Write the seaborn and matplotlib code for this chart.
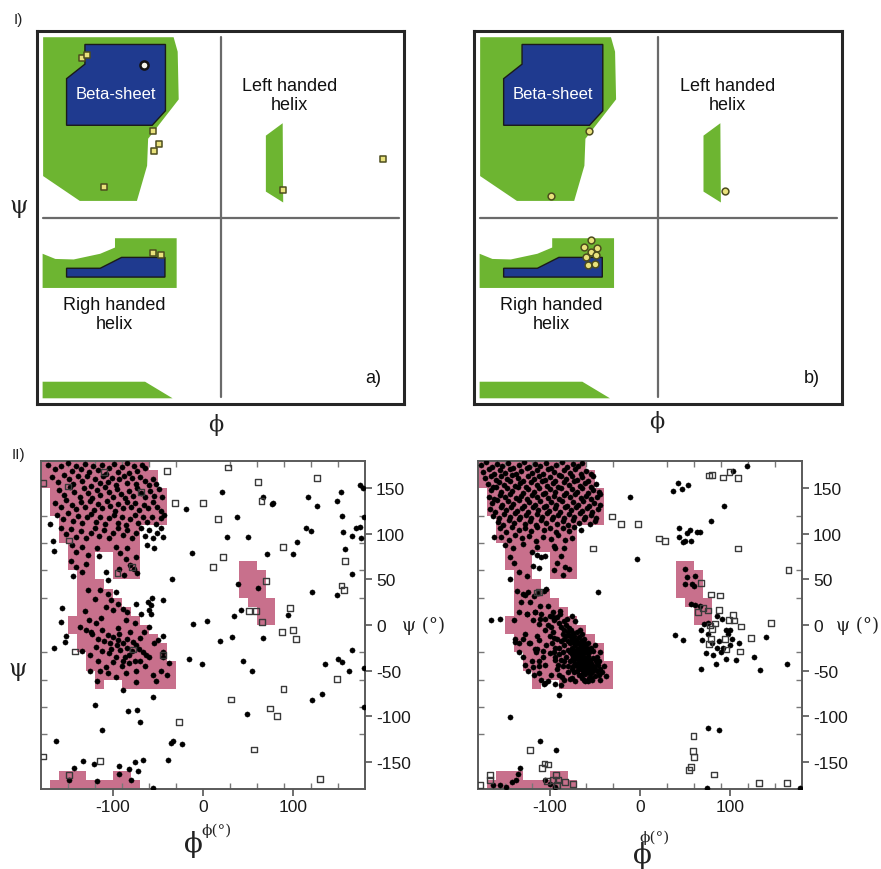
import numpy as np
import pandas as pd
import matplotlib
matplotlib.use("Agg")
import matplotlib.pyplot as plt
from matplotlib.patches import Polygon
from matplotlib.colors import ListedColormap
from matplotlib.ticker import FixedLocator
import seaborn as sns

sns.set_theme(style="white")
plt.rcParams['font.family'] = ['Liberation Sans', 'DejaVu Sans']
GREEK = ['DejaVu Serif', 'Liberation Serif']

# ---------------- Schematic regions (panels I a / b) ----------------
beta_green_phi = [-174, -46, -42, -41, -71, -72, -82, -138, -174]
beta_green_psi = [174, 174, 160, 114, 76, 50, 16, 16, 40]
beta_blue_phi = [-133, -54, -54, -67, -151, -151, -133]
beta_blue_psi = [167, 167, 103, 89, 89, 134, 148]
lhelix_green_phi = [44.5, 61, 61.5, 44.5]
lhelix_green_psi = [79, 91, 14.5, 25]
rhelix_green_phi = [-103.5, -43, -43, -174.5, -174.5, -162, -144, -118, -103.5]
rhelix_green_psi = [-20, -20, -68, -68, -35, -40, -40.5, -35, -29]
rhelix_blue_phi = [-151, -118, -97, -54.5, -54.5, -151]
rhelix_blue_psi = [-49, -49, -38.5, -38.5, -57.5, -57.5]
bottom_green_phi = [-174.5, -74, -47, -174.5]
bottom_green_psi = [-158.5, -158.5, -174.5, -174.5]

# residues plotted on the schematic maps
res_a = [(-136, 153.6), (-130.7, 156.8), (-66.5, 83.2), (-60, 70.9), (-65.2, 63.9),
         (-114, 29.1), (61.6, 26.5), (159.7, 56.4), (-66.5, -34.3), (-58.3, -36.2)]
res_a_special = [(-74.7, 147.2)]
res_b = [(-67.5, 83.8), (-104.6, 20.4), (65.5, 25.9), (-65.5, -21.4), (-72, -28.8),
         (-65.5, -33.6), (-59.4, -29.7), (-70.4, -38.4), (-60.6, -36.2), (-68.8, -45.5),
         (-61.6, -44.9)]

# ---------------- Ramachandran allowed region (10 deg cells) ----------------
# (psi lower edge, phi start, phi end)
allowed_rows = [
    (170, -180, -60), (160, -180, -50), (150, -180, -50),
    (140, -170, -40), (130, -170, -40), (120, -170, -40),
    (110, -160, -40), (100, -160, -70), (90, -160, -70), (80, -150, -70),
    (70, -150, -120), (70, -100, -70), (60, -150, -120), (60, -100, -70),
    (50, -140, -120), (50, -100, -70),
    (40, -140, -110), (30, -140, -100), (20, -140, -90), (10, -140, -80),
    (0, -150, -70), (-10, -150, -60), (-20, -140, -50), (-30, -140, -40),
    (-40, -130, -40), (-50, -130, -30), (-60, -120, -30),
    (-70, -120, -110), (-70, -90, -30),
    (-170, -160, -130), (-170, -100, -80), (-180, -170, -70),
    (60, 40, 60), (50, 40, 70), (40, 40, 70), (30, 40, 70),
    (20, 50, 80), (10, 60, 80), (0, 60, 80),
]

# ---------------- Panel II left: residues ----------------
left_beta = [
    (-172,176),(-165,171),(-158,174),(-150,178),(-146,169),(-141,175),(-136,171),(-131,177),(-127,168),(-122,174),
    (-117,170),(-112,176),(-108,166),(-104,172),(-99,177),(-95,168),(-90,173),(-85,178),(-82,167),(-77,174),
    (-73,169),(-68,176),(-64,172),
    (-168,162),(-161,157),(-155,165),(-149,160),(-144,155),(-139,163),(-134,158),(-129,164),(-125,153),(-120,160),
    (-115,156),(-111,163),(-106,157),(-101,161),(-97,154),(-93,160),(-88,164),(-84,156),(-79,161),(-74,155),
    (-70,162),(-65,158),(-60,154),(-56,160),(-52,155),
    (-160,148),(-154,143),(-148,151),(-143,146),(-137,141),(-132,150),(-128,145),(-123,139),(-118,148),(-114,143),
    (-109,151),(-105,146),(-100,140),(-96,149),(-91,144),(-87,139),(-82,147),(-78,142),(-73,150),(-69,145),
    (-64,140),(-59,147),(-54,142),(-49,149),(-46,141),
    (-165,134),(-158,129),(-152,137),(-146,132),(-141,127),(-136,135),(-131,130),(-126,136),(-121,126),(-117,133),
    (-112,128),(-107,136),(-103,131),(-98,125),(-94,133),(-89,128),(-85,135),(-80,129),(-76,134),(-71,126),
    (-66,132),(-61,128),(-56,135),(-51,130),(-47,125),
    (-162,121),(-156,116),(-150,123),(-145,114),(-139,120),(-134,112),(-129,118),(-124,122),(-119,113),(-114,119),
    (-109,111),(-104,117),(-99,121),(-95,112),(-90,118),(-86,110),(-81,116),(-76,121),(-72,112),(-67,118),
    (-62,113),(-57,119),(-52,111),(-47,117),(-43,121),
    (-158,106),(-152,100),(-147,105),(-141,97),(-136,103),(-130,95),(-125,101),(-120,106),(-116,98),(-110,104),
    (-105,96),(-100,101),(-94,107),(-89,99),(-84,104),(-79,96),(-74,101),(-69,107),(-64,98),(-60,104),
    (-56,95),(-51,101),(-47,106),(-44,97),(-62,88),(-55,84),
    (-146,88),(-141,80),(-134,86),(-128,77),(-147,70),(-141,64),(-135,58),(-130,67),(-144,54),(-118,84),
    (-116,76),(-108,58),(-106,49),(-97,86),(-92,79),(-86,72),(-81,66),(-77,61),(-93,62),(-88,55),
    (-73,57),(-75,75),(-84,84),
]
left_helix = [
    (-106,34),(-97,36),(-102,27),(-95,23),(-74,23),(-108,20),(-100,16),(-89,18),(-84,14),(-69,12),
    (-61,25),(-60,16),(-58,12),(-137,-2),(-130,-6),(-123,-10),(-117,-15),(-112,-6),(-106,-11),(-100,-13),
    (-95,-17),(-89,-20),(-84,-15),(-78,-19),(-74,-22),(-71,-26),(-67,-30),(-63,-33),(-60,-35),(-54,-20),
    (-50,-17),(-45,-35),(-47,-50),(-56,-55),(-74,-50),(-86,-53),(-97,-57),(-106,-53),(-117,-39),(-126,-33),
    (-134,-28),(-119,-24),(-112,-28),(-104,-31),(-97,-35),(-89,-39),(-82,-33),(-76,-39),(-82,-42),(-87,-35),
    (-100,-41),(-108,-46),(-115,-50),(-126,-50),(-92,-27),(-85,-25),(-79,-28),(-96,-22),(-103,-20),(-110,-18),
    (-125,-8),(-119,2),(-113,8),(-127,5),(-131,15),(-120,28),(-115,38),(-128,38),(-90,-45),(-70,-40),
    (-65,-45),(-95,-3),(-86,5),(-76,2),(-66,-8),(-60,-2),(-118,-62),(-75,-63),(-52,-62),(-40,-55),
    (-38,-42),(-57,30),(-58,22),(-45,27),(-93,-10),(-81,-8),(-102,-26),(-70,-14),
]
left_other = [
    (20.7,145.7),(-18.9,127.4),(66.3,140),(76.3,133),(78,134),(117,141),(148.5,135.8),(153,146.4),(127,131),
    (37.4,118.3),(26.3,96.4),(50.4,97),(114.4,106),(120,103),(154,119.7),(155.5,101.9),(165,97.8),(170,106.6),
    (174.4,107.3),(175,95),(157.8,82.9),(166,56),(148.5,33.2),(120.7,36),(-12.6,79.2),(71.5,78),(100.4,78),
    (104.8,91),(39.3,45.3),(61.5,40.5),(94.8,11.3),(42.2,16),(34.4,9.5),(4,4.4),(-11.5,1.5),(31.9,-13),
    (18.9,-17.5),(66.3,-14),(-15.6,-37.6),(-1.5,-43),(44,-39.4),(54,-50.7),(48.5,-97.8),(121.5,-82.5),
    (131.8,-76),(135.6,-42.4),(150.4,-37.6),(154,-40.5),(162.6,-50.7),(165,-27),(179,-47),(174.4,154),
    (177.4,150),(-34.8,50.4),(-44,-11.7),(-44,-30),(-170,110.6),(-167,92),(-166,81),
    (-157,19),(-158,3.6),(-152.6,-11.7),(-153,-19),(-166,-25.6),(-163,-127.8),(-120,-87.6),(-112.6,-115.7),
    (-83,-94),(-73,-93),(-70,-106.6),(-89,-70.8),(-56,-78.5),(-33,-127),(-35.6,-129.6),(-23.7,-130.3),
    (-39.3,-147.9),(-133.7,-149.4),(-120.7,-152.4),(-93.7,-155.2),(-75.6,-150.4),(-67,-148.5),(-82.6,-157.7),
    (-72.6,-160.3),(-143,-156.6),(-93.7,-163.5),(-118,-171.3),(-148.5,-170.5),(-80,-169.8),(-56,-179),
    (179,118),(179,-90),
]
left_gly = [
    (-39.6,169),(28,173),(0.4,134),(-31,134),(17,116),(61.5,157),(65,136),(127,161),(89,86),(22.6,74.5),
    (11.5,63.5),(157.8,70),(154,43.4),(157,38.7),(70,48),(96.7,18.6),(51,15.3),(59,15.3),(65.2,3.3),
    (87.4,-7.7),(100.4,-5.8),(103.3,-15.7),(89.3,-70.5),(31,-81.8),(74.4,-91.6),(81.9,-99.7),(148.5,-59.5),
    (-27,-106.6),(56.7,-136.5),(130,-169),(-177.4,-144.2),(-114.4,-149.4),(-148.5,-165),(-142,-29),
    (-79,63.5),(-95,57),(-178,156),(-109.6,167.6),(-150,152),(-69,146),(-148.5,92.7),(-44.8,-33),(-78,-27),
]

# ---------------- Panel II right: residues ----------------
right_beta = [
    (-177,176),(-171,179),(-165,173),(-159,177),(-153,174),(-147,178),(-141,172),(-135,176),(-129,179),(-123,173),
    (-117,177),(-111,174),(-105,178),(-99,172),(-93,176),(-87,179),(-81,173),(-75,177),(-69,174),(-64,178),
    (-174,168),(-168,171),(-162,166),(-156,170),(-150,167),(-144,171),(-138,166),(-132,169),(-126,172),(-120,167),
    (-114,170),(-108,166),(-102,171),(-96,168),(-90,165),(-84,170),(-78,167),(-72,171),(-66,166),(-60,169),(-55,166),
    (-172,161),(-166,164),(-160,159),(-154,163),(-148,160),(-142,165),(-136,161),(-130,158),(-124,163),(-118,160),
    (-112,164),(-106,159),(-100,162),(-94,158),(-88,163),(-82,160),(-76,164),(-70,159),(-64,162),(-58,158),(-52,163),
    (-169,155),(-163,152),(-157,157),(-151,154),(-145,158),(-139,153),(-133,156),(-127,152),(-121,157),(-115,154),
    (-109,158),(-103,153),(-97,156),(-91,152),(-85,157),(-79,154),(-73,158),(-67,153),(-61,156),(-55,152),(-49,155),
    (-166,148),(-160,151),(-154,146),(-148,150),(-142,147),(-136,151),(-130,145),(-124,149),(-118,146),(-112,150),
    (-106,145),(-100,149),(-94,146),(-88,150),(-82,145),(-76,149),(-70,146),(-64,150),(-58,145),(-52,148),(-46,146),
    (-168,141),(-162,138),(-156,143),(-150,140),(-144,144),(-138,139),(-132,142),(-126,138),(-120,143),(-114,140),
    (-108,144),(-102,139),(-96,142),(-90,138),(-84,143),(-78,140),(-72,144),(-66,139),(-60,142),(-54,138),(-48,141),(-44,144),
    (-165,134),(-159,137),(-153,132),(-147,136),(-141,133),(-135,137),(-129,131),(-123,135),(-117,132),(-111,136),
    (-105,131),(-99,135),(-93,132),(-87,136),(-81,131),(-75,135),(-69,132),(-63,136),(-57,131),(-51,134),(-45,132),
    (-167,127),(-161,124),(-155,129),(-149,126),(-143,130),(-137,125),(-131,128),(-125,124),(-119,129),(-113,126),
    (-107,130),(-101,125),(-95,128),(-89,124),(-83,129),(-77,126),(-71,130),(-65,125),(-59,128),(-53,124),(-47,127),
    (-163,120),(-157,117),(-151,122),(-145,119),(-139,123),(-133,118),(-127,121),(-121,117),(-115,122),(-109,119),
    (-103,123),(-97,118),(-91,121),(-85,117),(-79,122),(-73,119),(-67,123),(-61,118),(-55,121),(-49,117),
    (-158,113),(-152,110),(-146,115),(-140,112),(-134,116),(-128,111),(-122,114),(-116,110),(-110,115),(-104,112),
    (-98,116),(-92,111),(-86,114),(-80,110),(-74,115),(-68,112),(-62,116),(-56,111),(-50,114),
    (-156,106),(-149,102),(-142,108),(-135,104),(-128,107),(-121,103),(-114,108),(-107,104),(-100,107),(-93,102),
    (-86,106),(-79,103),(-73,108),(-66,104),
    (-154,97),(-146,93),(-139,99),(-131,95),(-123,98),(-116,92),(-108,97),(-99,94),(-91,99),(-83,93),(-76,96),
    (-150,88),(-141,85),(-130,89),(-114,86),(-96,87),(-84,85),
    (-120,80),(-115,77),(-110,75),(-106,76),(-112,63),(-119,65),(-126,54),(-145,75),(-140,68),(-134,58),
    (-145,50),(-95,84),(-88,76),(-83,64),(-79,62),(-92,68),(-86,55),(-96,60),
]
right_helix = [
    (-137,37.6),(-127.8,32.9),(-113,35),(-106.7,37.6),(-122,24.8),(-111,21),(-102.6,21),(-126,12),(-116.7,13.9),
    (-111,6.6),(-96.3,13.9),(-89,15.7),(-81.5,6.6),(-76,10),(-72,4.7),(-139,-15),(-115,-26),
    (-130,34),(-124,36),(-104,40),(-134,14),(-126,12),(-117,14),(-110,12),(-106,7),(-97,9),(-89,12),
    (-119,5),(-112,1.5),(-102,0),(-139,-19),(-130,-15),(-123,-20),(-112,-17),(-117,-26),(-108,-28),
    (-100,-31),(-95,-35),(-112,-39),(-106,-44),(-91,-44),(-119,-46),(-112,-53),(-99,-55),(-87,-57),
    (-78,-59),(-106,-64),(-128,-44),(-135,-30),(-140,5),(-132,25),(-118,32),
    (-100,10),(-96,6),(-92,9),(-90,2),(-88,-2),(-85,4),(-84,-6),(-82,0),(-80,-8),(-79,-3),(-78,-12),(-77,-5),
    (-76,-15),(-75,-9),(-74,-19),(-73,-12),(-72,-22),(-71,-16),(-70,-26),(-70,-8),(-69,-20),(-68,-30),(-68,-13),
    (-67,-24),(-66,-34),(-66,-18),(-65,-28),(-64,-38),(-64,-22),(-63,-32),(-62,-42),(-62,-26),(-61,-36),(-60,-46),
    (-60,-30),(-59,-40),(-58,-50),(-58,-34),(-57,-44),(-56,-54),(-56,-38),(-55,-48),(-54,-58),(-54,-42),(-53,-52),
    (-52,-36),(-51,-46),(-50,-56),(-49,-40),(-48,-50),(-47,-44),(-46,-55),(-45,-30),(-44,-48),
    (-92,-15),(-90,-25),(-88,-18),(-86,-30),(-84,-22),(-82,-35),(-80,-27),(-78,-40),(-76,-32),(-74,-45),(-72,-36),
    (-70,-50),(-68,-42),(-66,-55),(-64,-47),(-62,-60),(-60,-52),(-58,-62),(-100,-12),(-98,-20),(-96,-30),(-94,-38),
    (-92,-48),(-90,-55),(-86,-45),(-84,-60),(-80,-52),(-76,-58),(-72,-62),(-105,-22),(-108,-35),(-112,-45),
    (-116,-30),(-120,-40),(-125,-50),(-118,-55),(-110,-60),(-102,-62),(-95,-65),(-88,-66),(-130,-35),(-135,-20),
    (-128,-10),(-122,-20),(-114,-12),(-106,-5),(-97,-8),(-62,-15),(-58,-20),(-55,-25),(-52,-28),(-50,-22),
    (-48,-35),(-46,-40),(-44,-60),(-42,-52),(-40,-45),(-38,-56),
    (-78,-20),(-76,-25),(-74,-28),(-72,-30),(-70,-33),(-69,-37),(-67,-40),(-66,-44),(-65,-48),(-63,-50),(-61,-54),
    (-74,-35),(-72,-42),(-70,-45),(-68,-48),(-80,-18),(-82,-12),(-84,-15),(-86,-10),(-78,-30),(-76,-38),(-62,-46),
    (-60,-40),(-58,-44),(-56,-48),(-57,-30),(-59,-25),(-61,-21),(-63,-18),(-65,-10),(-67,-5),(-54,-50),(-52,-45),
    (-50,-48),(-48,-42),(-53,-60),(-57,-58),(-61,-62),(-64,-58),(-68,-55),(-73,-52),(-76,-48),(-80,-45),(-84,-40),
    (-88,-38),(-90,-32),(-94,-25),(-96,-14),(-99,-2),
]
right_other = [
    (-11,141),(-3.7,72),(43.7,107),(43.7,97),(50,92),(52.6,101.5),(55,104),(63,102),(66.5,102),(48,91),(56.7,92.7),
    (37,147),(41.9,156),(46.3,149),(53.7,154),(103.7,168.7),(119,175),(93.7,130.7),(79,114),(-46.3,35.8),
    (50,61.7),(51.9,52.6),(61,53.7),(50,45.3),(57.4,45.3),(60.4,42.4),(56.7,23.4),(61,21.5),(66.7,20.4),
    (85,9.5),(91.5,7),(71.5,1.5),(76,2.2),(67.8,-5.8),(95.6,-5),(100,-5.8),(97.4,-9.5),(102.6,-15),(69.3,-16),
    (38.9,-11.3),(48,-16.8),(140,-13),(96,-37),(107,-38),(73,-30.7),(81.5,-32.5),(84,-42.4),(127,-35),
    (133,-49.7),(67.8,-47.8),(163.7,-43),(75.2,-113.5),(88,-115.4),(74,-178.5),(177.8,-179),(-144,-101),
    (-106.7,-64.6),(-90,-76.7),(-111.5,-127.4),(-93,-137.6),(-133.7,-157),(-135.5,-163),(-137.4,-170.5),
    (-141.9,-172.3),(-106,-169.8),(-94.8,-177.8),(-163.3,-176),(-156,-176),(-148.5,-177.8),(-100,-174),
    (-162.6,97),(-166,5),(-155.6,6.6),(80,-20),(88,-18),(92,-25),(85,-25),(76,-10),(110,-20),(100,-22),(90,-30),
]
right_gly = [
    (-31.5,119),(-21,110.6),(-1.9,110.6),(-52.6,84),(21.5,95),(27.8,92),(77,164),(79.6,165),(92.6,162),
    (99.3,167.6),(108.5,161.4),(108.5,84),(165,60),(67.8,46),(78.9,33.6),(88.9,32.5),(70.4,19),(75.9,16),
    (64.8,14.2),(88,16.8),(99,5.8),(104.4,5),(103.7,10.6),(112,-1.5),(83.3,1.5),(77.8,-0.4),(79.6,-4),
    (94.4,-15),(78.5,-15),(77,-21),(123,-14),(145.6,2.2),(111,-29),(96,-27),(59.3,-122),(58.5,-138),
    (60.4,-144.6),(56.3,-155.5),(54.8,-159),(82.2,-164),(132.6,-173.8),(163.7,-173.8),(-122.6,-137),
    (-106,-152),(-102,-153),(-108.5,-156.6),(-166.7,-165),(-167,-170),(-103.3,-171.3),(-96.7,-170.5),
    (-93,-165),(-91,-170.5),(-92.2,-176),(-83.7,-172.3),(-74.4,-174.9),(-178,-176),(-114.8,35.8),(-112,36.5),
]

y_major = [-150, -100, -50, 0, 50, 100, 150]
x_major = [-100, 0, 100]
minor_ticks = [-150, -120, -90, -60, -30, 0, 30, 60, 90, 120, 150]

# ---------------- Figure ----------------
W, H = 881, 870
fig = plt.figure(figsize=(W / 100, H / 100), dpi=100)


def add_ax(x0, y0, x1, y1):
    return fig.add_axes([x0 / W, 1 - y1 / H, (x1 - x0) / W, (y1 - y0) / H])


def ftext(x, y, s, **kw):
    fig.text(x / W, 1 - y / H, s, **kw)


GREEN = '#6db531'
BLUE = '#1f3a8f'
PINK = '#c8708c'


def schematic(ax, res, marker, label, special=None):
    ax.set_xlim(-180, 180)
    ax.set_ylim(-180, 180)
    for px, py, col in [(beta_green_phi, beta_green_psi, GREEN),
                        (beta_blue_phi, beta_blue_psi, BLUE),
                        (lhelix_green_phi, lhelix_green_psi, GREEN),
                        (rhelix_green_phi, rhelix_green_psi, GREEN),
                        (rhelix_blue_phi, rhelix_blue_psi, BLUE),
                        (bottom_green_phi, bottom_green_psi, GREEN)]:
        ax.add_patch(Polygon(np.column_stack([px, py]), closed=True, facecolor=col,
                             edgecolor='#1a1a1a' if col == BLUE else 'none',
                             linewidth=1.0, zorder=1))
    ax.plot([0, 0], [-173, 174], color='#6a6a6a', lw=1.6, zorder=2)
    ax.plot([-174, 175], [0, 0], color='#6a6a6a', lw=1.6, zorder=2)
    d = pd.DataFrame(res, columns=['phi', 'psi'])
    sns.scatterplot(data=d, x='phi', y='psi', ax=ax, marker=marker, s=24,
                    color='#e9e27c', edgecolor='#4d4d1e', linewidth=1.1, legend=False, zorder=3)
    if special:
        ds = pd.DataFrame(special, columns=['phi', 'psi'])
        sns.scatterplot(data=ds, x='phi', y='psi', ax=ax, marker='o', s=34,
                        color='#f4f4e8', edgecolor='#111111', linewidth=1.8, legend=False, zorder=3)
    ax.text(-103, 120, 'Beta-sheet', color='white', fontsize=12, ha='center', va='center', zorder=4)
    ax.text(68, 118, 'Left handed\nhelix', color='#111111', fontsize=13, ha='center', va='center',
            linespacing=1.15, zorder=4)
    ax.text(-104, -93, 'Righ handed\nhelix', color='#111111', fontsize=13, ha='center', va='center',
            linespacing=1.15, zorder=4)
    ax.text(150, -154, label, color='#111111', fontsize=13, ha='center', va='center', zorder=4)
    ax.set_xticks([])
    ax.set_yticks([])
    ax.set_xlabel('')
    ax.set_ylabel('')
    for sp in ax.spines.values():
        sp.set_visible(True)
        sp.set_color('#262626')
        sp.set_linewidth(2.2)


ax_a = add_ax(37, 32, 404, 405)
schematic(ax_a, res_a, 's', 'a)', special=res_a_special)
ax_b = add_ax(474, 32, 842, 405)
schematic(ax_b, res_b, 'o', 'b)')

# allowed-region mask
edges = np.arange(-180, 190, 10)
mask = np.zeros((36, 36))
for psi0, p0, p1 in allowed_rows:
    r = int((psi0 + 180) // 10)
    c0 = int((p0 + 180) // 10)
    c1 = int((p1 + 180) // 10)
    mask[r, c0:c1] = 1
mask = np.ma.masked_where(mask == 0, mask)


def rama(ax, beta, helix, other, gly):
    ax.set_xlim(-180, 180)
    ax.set_ylim(-180, 180)
    ax.pcolormesh(edges, edges, mask, cmap=ListedColormap([PINK]), vmin=0, vmax=1,
                  shading='flat', zorder=0.5, linewidth=0)
    filled = pd.DataFrame(beta + helix + other, columns=['phi', 'psi'])
    sns.scatterplot(data=filled, x='phi', y='psi', ax=ax, marker='o', s=14,
                    color='black', edgecolor='black', linewidth=0.3, legend=False, zorder=3)
    g = pd.DataFrame(gly, columns=['phi', 'psi'])
    sns.scatterplot(data=g, x='phi', y='psi', ax=ax, marker='s', s=17,
                    facecolor='none', edgecolor='#3a3a3a', linewidth=1.0, legend=False, zorder=3)
    ax.set_xlabel('')
    ax.set_ylabel('')
    ax.yaxis.tick_right()
    ax.set_yticks(y_major)
    ax.set_xticks(x_major)
    ax.xaxis.set_minor_locator(FixedLocator(minor_ticks))
    ax.yaxis.set_minor_locator(FixedLocator(minor_ticks))
    ax.tick_params(axis='y', which='major', left=False, right=True, direction='out', length=5,
                   width=1.2, color='#555555', labelsize=12.5, pad=3, labelcolor='#1a1a1a')
    ax.tick_params(axis='x', which='major', bottom=True, top=False, direction='out', length=5,
                   width=1.2, color='#555555', labelsize=12.5, pad=2, labelcolor='#1a1a1a')
    ax.tick_params(axis='both', which='minor', left=True, right=True, top=True, bottom=True,
                   direction='in', length=4, width=1.0, color='#777777')
    ax.set_yticklabels([str(v) for v in y_major])
    ax.set_xticklabels([str(v) for v in x_major])
    for sp in ax.spines.values():
        sp.set_visible(True)
        sp.set_color('#5a5a5a')
        sp.set_linewidth(1.4)


ax_c = add_ax(41, 462, 365, 790)
rama(ax_c, left_beta, left_helix, left_other, left_gly)
ax_d = add_ax(478, 462, 802, 790)
rama(ax_d, right_beta, right_helix, right_other, right_gly)

# labels
ftext(14, 20, 'I)', fontsize=11, ha='left', va='center', color='#222222')
ftext(12, 455, 'II)', fontsize=11, ha='left', va='center', color='#222222')
ftext(19, 207, 'ψ', family=GREEK, fontsize=17, ha='center', va='center', color='#222222')
ftext(18, 670, 'ψ', family=GREEK, fontsize=17, ha='center', va='center', color='#222222')
ftext(216, 425, 'ϕ', family=GREEK, fontsize=16, ha='center', va='center', color='#222222')
ftext(657, 422, 'ϕ', family=GREEK, fontsize=16, ha='center', va='center', color='#222222')
ftext(193, 845, 'ϕ', family=GREEK, fontsize=20, ha='center', va='center', color='#222222')
ftext(216, 831, 'ϕ(°)', family=GREEK, fontsize=11, ha='center', va='center', color='#222222')
ftext(655, 838, 'ϕ(°)', family=GREEK, fontsize=11, ha='center', va='center', color='#222222')
ftext(642, 856, 'ϕ', family=GREEK, fontsize=20, ha='center', va='center', color='#222222')
ftext(423, 626, 'ψ (°)', family=GREEK, fontsize=13, ha='center', va='center', color='#222222')
ftext(858, 626, 'ψ (°)', family=GREEK, fontsize=13, ha='center', va='center', color='#222222')

fig.savefig('out.png', dpi=100, facecolor='white')
